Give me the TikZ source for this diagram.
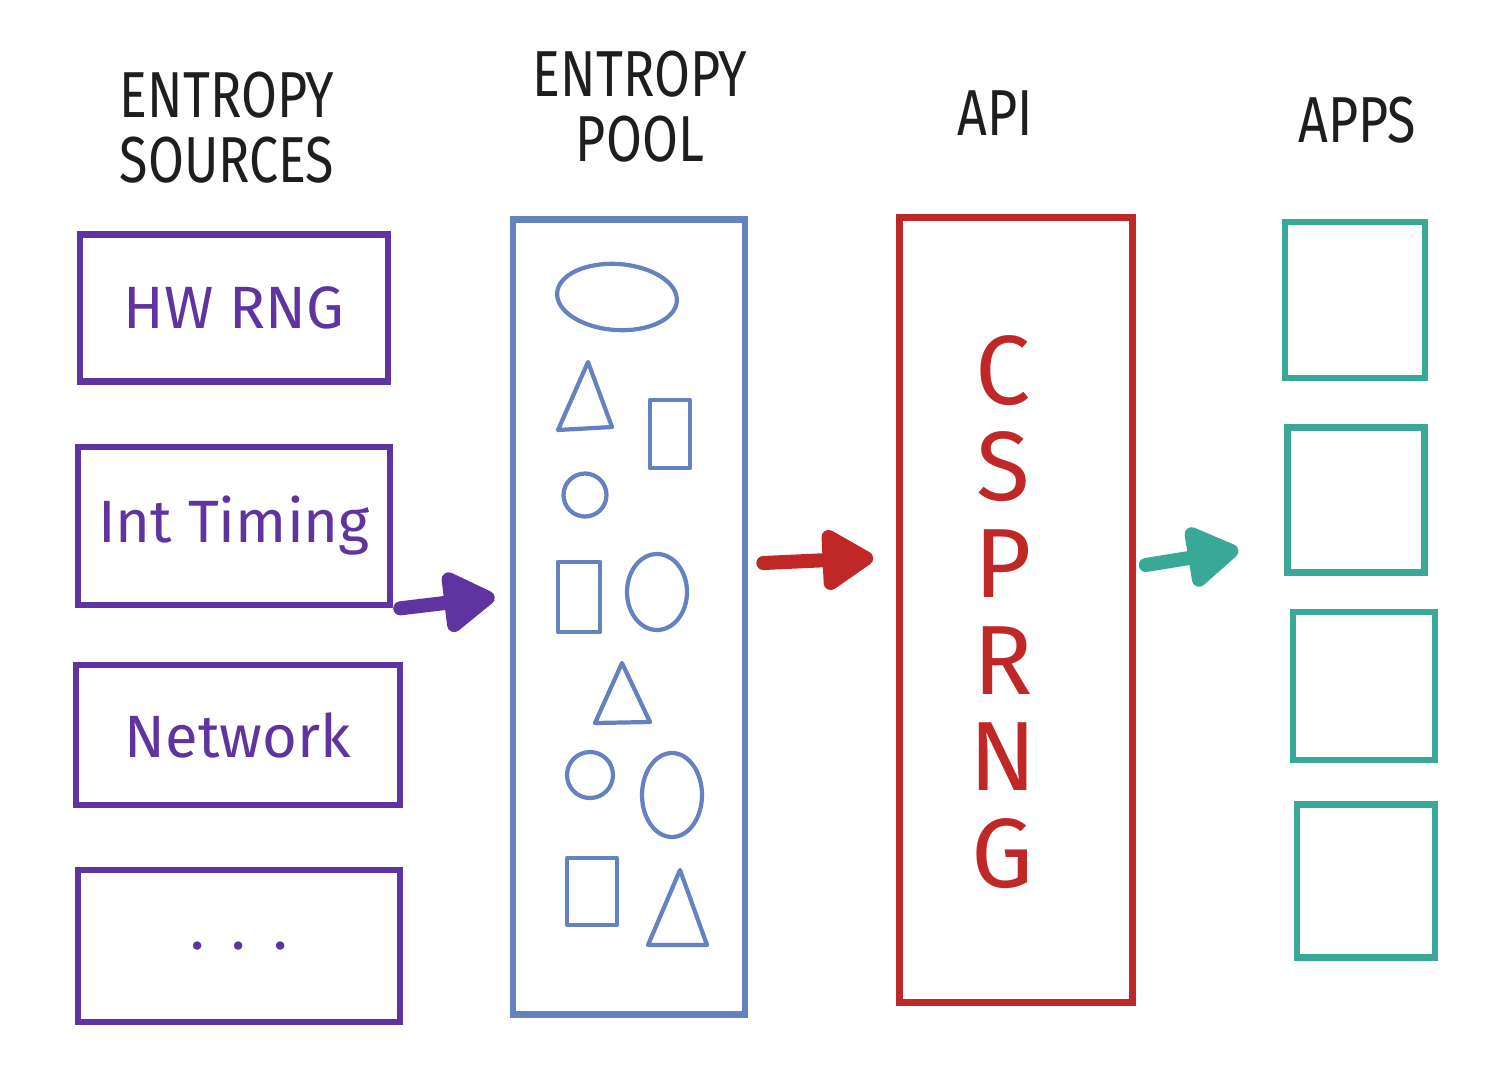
\documentclass[tikz,border=0pt]{standalone}
\usepackage{fontspec}
\setmainfont{Fira Sans}
\usetikzlibrary{arrows.meta,calc}

\definecolor{srcpurple}{RGB}{95,52,160}
\definecolor{poolblue}{RGB}{100,130,192}
\definecolor{apired}{RGB}{192,40,40}
\definecolor{appteal}{RGB}{58,168,150}
\definecolor{titlegray}{RGB}{30,30,30}

\tikzset{
  srcbox/.style={draw=srcpurple, line width=3.8pt, text=srcpurple, font=\fontsize{34}{40}\selectfont},
  appbox/.style={draw=appteal, line width=3.6pt},
  title/.style={align=center, text=titlegray, font=\fontsize{37}{37}\selectfont, xscale=0.8},
  bigarrow/.style={line width=8pt, line cap=round, -{Triangle[length=1.15cm,width=1.35cm,round]}},
  poolshape/.style={draw=poolblue, line width=2.4pt, line join=round, line cap=round}
}

\begin{document}
\begin{tikzpicture}[x=0.02cm, y=-0.02cm]
	\useasboundingbox (0,0) rectangle (1510,1086);

	%% titles
	\node[title] (tsrc) at (227,128) {ENTROPY\\SOURCES};
	\node[title] (tpool) at (640,107) {ENTROPY\\POOL};
	\node[title] (tapi) at (995,113) {API};
	\node[title] (tapps) at (1357,120) {APPS};

	%% sources
	\node[srcbox, minimum width=6.16cm, minimum height=2.94cm] (hw) at (234,308) {HW RNG};
	\node[srcbox, minimum width=6.24cm, minimum height=3.16cm] (it) at (234,526) {Int Timing};
	\node[srcbox, minimum width=6.48cm, minimum height=2.8cm] (net) at (238,735) {Network};
	\node[srcbox, minimum width=6.44cm, minimum height=3.04cm] (more) at (239,946) {.\hspace{0.55cm}.\hspace{0.55cm}.};

	%% pool
	\node[draw=poolblue, line width=3.8pt, minimum width=4.64cm, minimum height=15.9cm] (pool) at (629,617) {};
	\draw[poolshape, rotate around={-4:(617,297)}] (617,297) ellipse [x radius=1.2cm, y radius=0.66cm];
	\draw[poolshape] (558,430) -- (588,362) -- (612,427) -- cycle;
	\draw[poolshape] (650,400) rectangle (690,468);
	\draw[poolshape] (585,495) circle [radius=0.43cm];
	\draw[poolshape] (558,562) rectangle (600,632);
	\draw[poolshape] (657,592) ellipse [x radius=0.6cm, y radius=0.76cm];
	\draw[poolshape] (595,723) -- (622,663) -- (650,722) -- cycle;
	\draw[poolshape] (590,775) circle [radius=0.46cm];
	\draw[poolshape] (672,795) ellipse [x radius=0.6cm, y radius=0.84cm];
	\draw[poolshape] (567,858) rectangle (617,925);
	\draw[poolshape] (648,945) -- (680,870) -- (707,945) -- cycle;

	%% api
	\node[draw=apired, line width=3.8pt, minimum width=4.66cm, minimum height=15.7cm] (api) at (1016,610) {};
	\node[text=apired, align=center, font=\fontsize{56}{55}\selectfont] (csprng) at (1003,612) {C\\S\\P\\R\\N\\G};

	%% apps
	\node[appbox, minimum width=2.8cm, minimum height=3.12cm] (app1) at (1355,300) {};
	\node[appbox, minimum width=2.74cm, minimum height=2.9cm] (app2) at (1356,500) {};
	\node[appbox, minimum width=2.84cm, minimum height=2.96cm] (app3) at (1364,686) {};
	\node[appbox, minimum width=2.76cm, minimum height=3.06cm] (app4) at (1366,881) {};

	%% flow
	\draw[bigarrow, srcpurple] ($(it.south east)+(7,0)$) -- ($(pool.west)+(-15,-20)$);
	\draw[bigarrow, apired] ($(pool.east)+(15,-54)$) -- ($(api.west)+(-23,-52)$);
	\draw[bigarrow, appteal] ($(api.east)+(10,-45)$) -- ($(app2.west)+(-46,50)$);
\end{tikzpicture}
\end{document}
